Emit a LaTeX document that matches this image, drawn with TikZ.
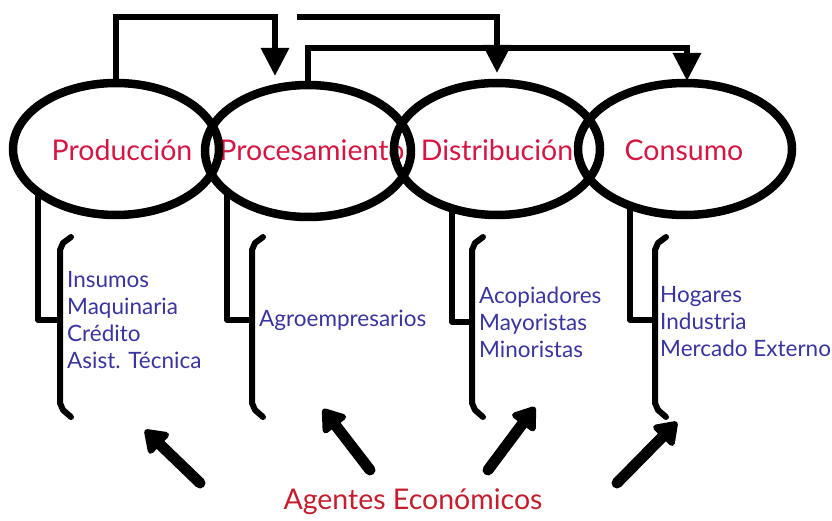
\documentclass[tikz,border=0pt]{standalone}
\usepackage{fontspec}
\setmainfont{Lato}
\usetikzlibrary{shapes.geometric,arrows.meta}
\definecolor{etapa}{RGB}{214,22,66}
\definecolor{agente}{RGB}{196,30,45}
\definecolor{lista}{RGB}{58,52,160}
\tikzset{
  nombre/.style={text=etapa, font=\fontsize{28.5}{32}\selectfont, inner sep=0pt},
  etapa/.style={ellipse, draw, line width=8.5pt, minimum width=206pt, minimum height=132pt, inner sep=0pt, outer sep=0pt},
  flujo/.style={line width=6pt, -{Triangle[width=27pt,length=28pt]}},
  llave/.style={line width=6pt, line join=round, line cap=round},
  lista/.style={anchor=west, align=left, text=lista, font=\fontsize{22.5}{27}\selectfont, inner sep=0pt},
  agente/.style={line width=11pt, line cap=round, -{Triangle[width=32pt,length=24pt,round]}},
}
\begin{document}
\begin{tikzpicture}[x=1pt,y=-1pt]
    \useasboundingbox (0,0) rectangle (832,521);

    % nombres de las etapas (debajo de las elipses)
    \node[nombre] (tprod) at (122,150) {Producción};
    \node[nombre] (tproc) at (312,150) {Procesamiento};
    \node[nombre] (tdist) at (497,150) {Distribución};
    \node[nombre] (tcons) at (684,150) {Consumo};

    % elipses
    \node[etapa] (prod) at (116,149) {};
    \node[etapa] (proc) at (308,151) {};
    \node[etapa] (dist) at (497,149) {};
    \node[etapa, minimum width=214pt] (cons) at (685,149) {};

    % flechas de arriba
    \coordinate (pun1) at (275,76);
    \coordinate (ini2) at (297,17);
    \coordinate (pun2) at (497,73);
    \coordinate (pun3) at (687,81);
    \draw[flujo] (prod.north) |- (275,17) -- (pun1);
    \draw[flujo] (ini2) -| (pun2);
    \draw[flujo] (proc.north) |- (687,48) -- (pun3);

    % llaves
    \draw[llave] (prod.209) |- (60,320);
    \draw[llave] (proc.207) |- (252,320);
    \draw[llave] (dist.233) |- (472,322);
    \draw[llave] (cons.226) |- (655,320);
    \foreach \x in {60,252,472,655}
        \draw[llave] (\x+11,237) -- (\x+3,243) -- (\x,250) -- (\x,403) -- (\x+3,410) -- (\x+11,417);

    % listas
    \node[lista] (lprod) at (67,320) {Insumos\\Maquinaria\\Crédito\\Asist. Técnica};
    \node[lista] (lproc) at (259,320) {Agroempresarios};
    \node[lista] (ldist) at (479,322) {Acopiadores\\Mayoristas\\Minoristas};
    \node[lista] (lcons) at (660,322) {Hogares\\Industria\\Mercado Externo};

    % agentes economicos
    \node[text=agente, font=\fontsize{28.5}{32}\selectfont, inner sep=0pt] (agentes) at (413,502) {Agentes Económicos};
    \coordinate (a1) at (200,483); \coordinate (b1) at (145,430);
    \coordinate (a2) at (370,470); \coordinate (b2) at (323,409);
    \coordinate (a3) at (488,470); \coordinate (b3) at (535,407);
    \coordinate (a4) at (617,483); \coordinate (b4) at (677,422);
    \draw[agente] (a1) -- (b1);
    \draw[agente] (a2) -- (b2);
    \draw[agente] (a3) -- (b3);
    \draw[agente] (a4) -- (b4);
\end{tikzpicture}
\end{document}
